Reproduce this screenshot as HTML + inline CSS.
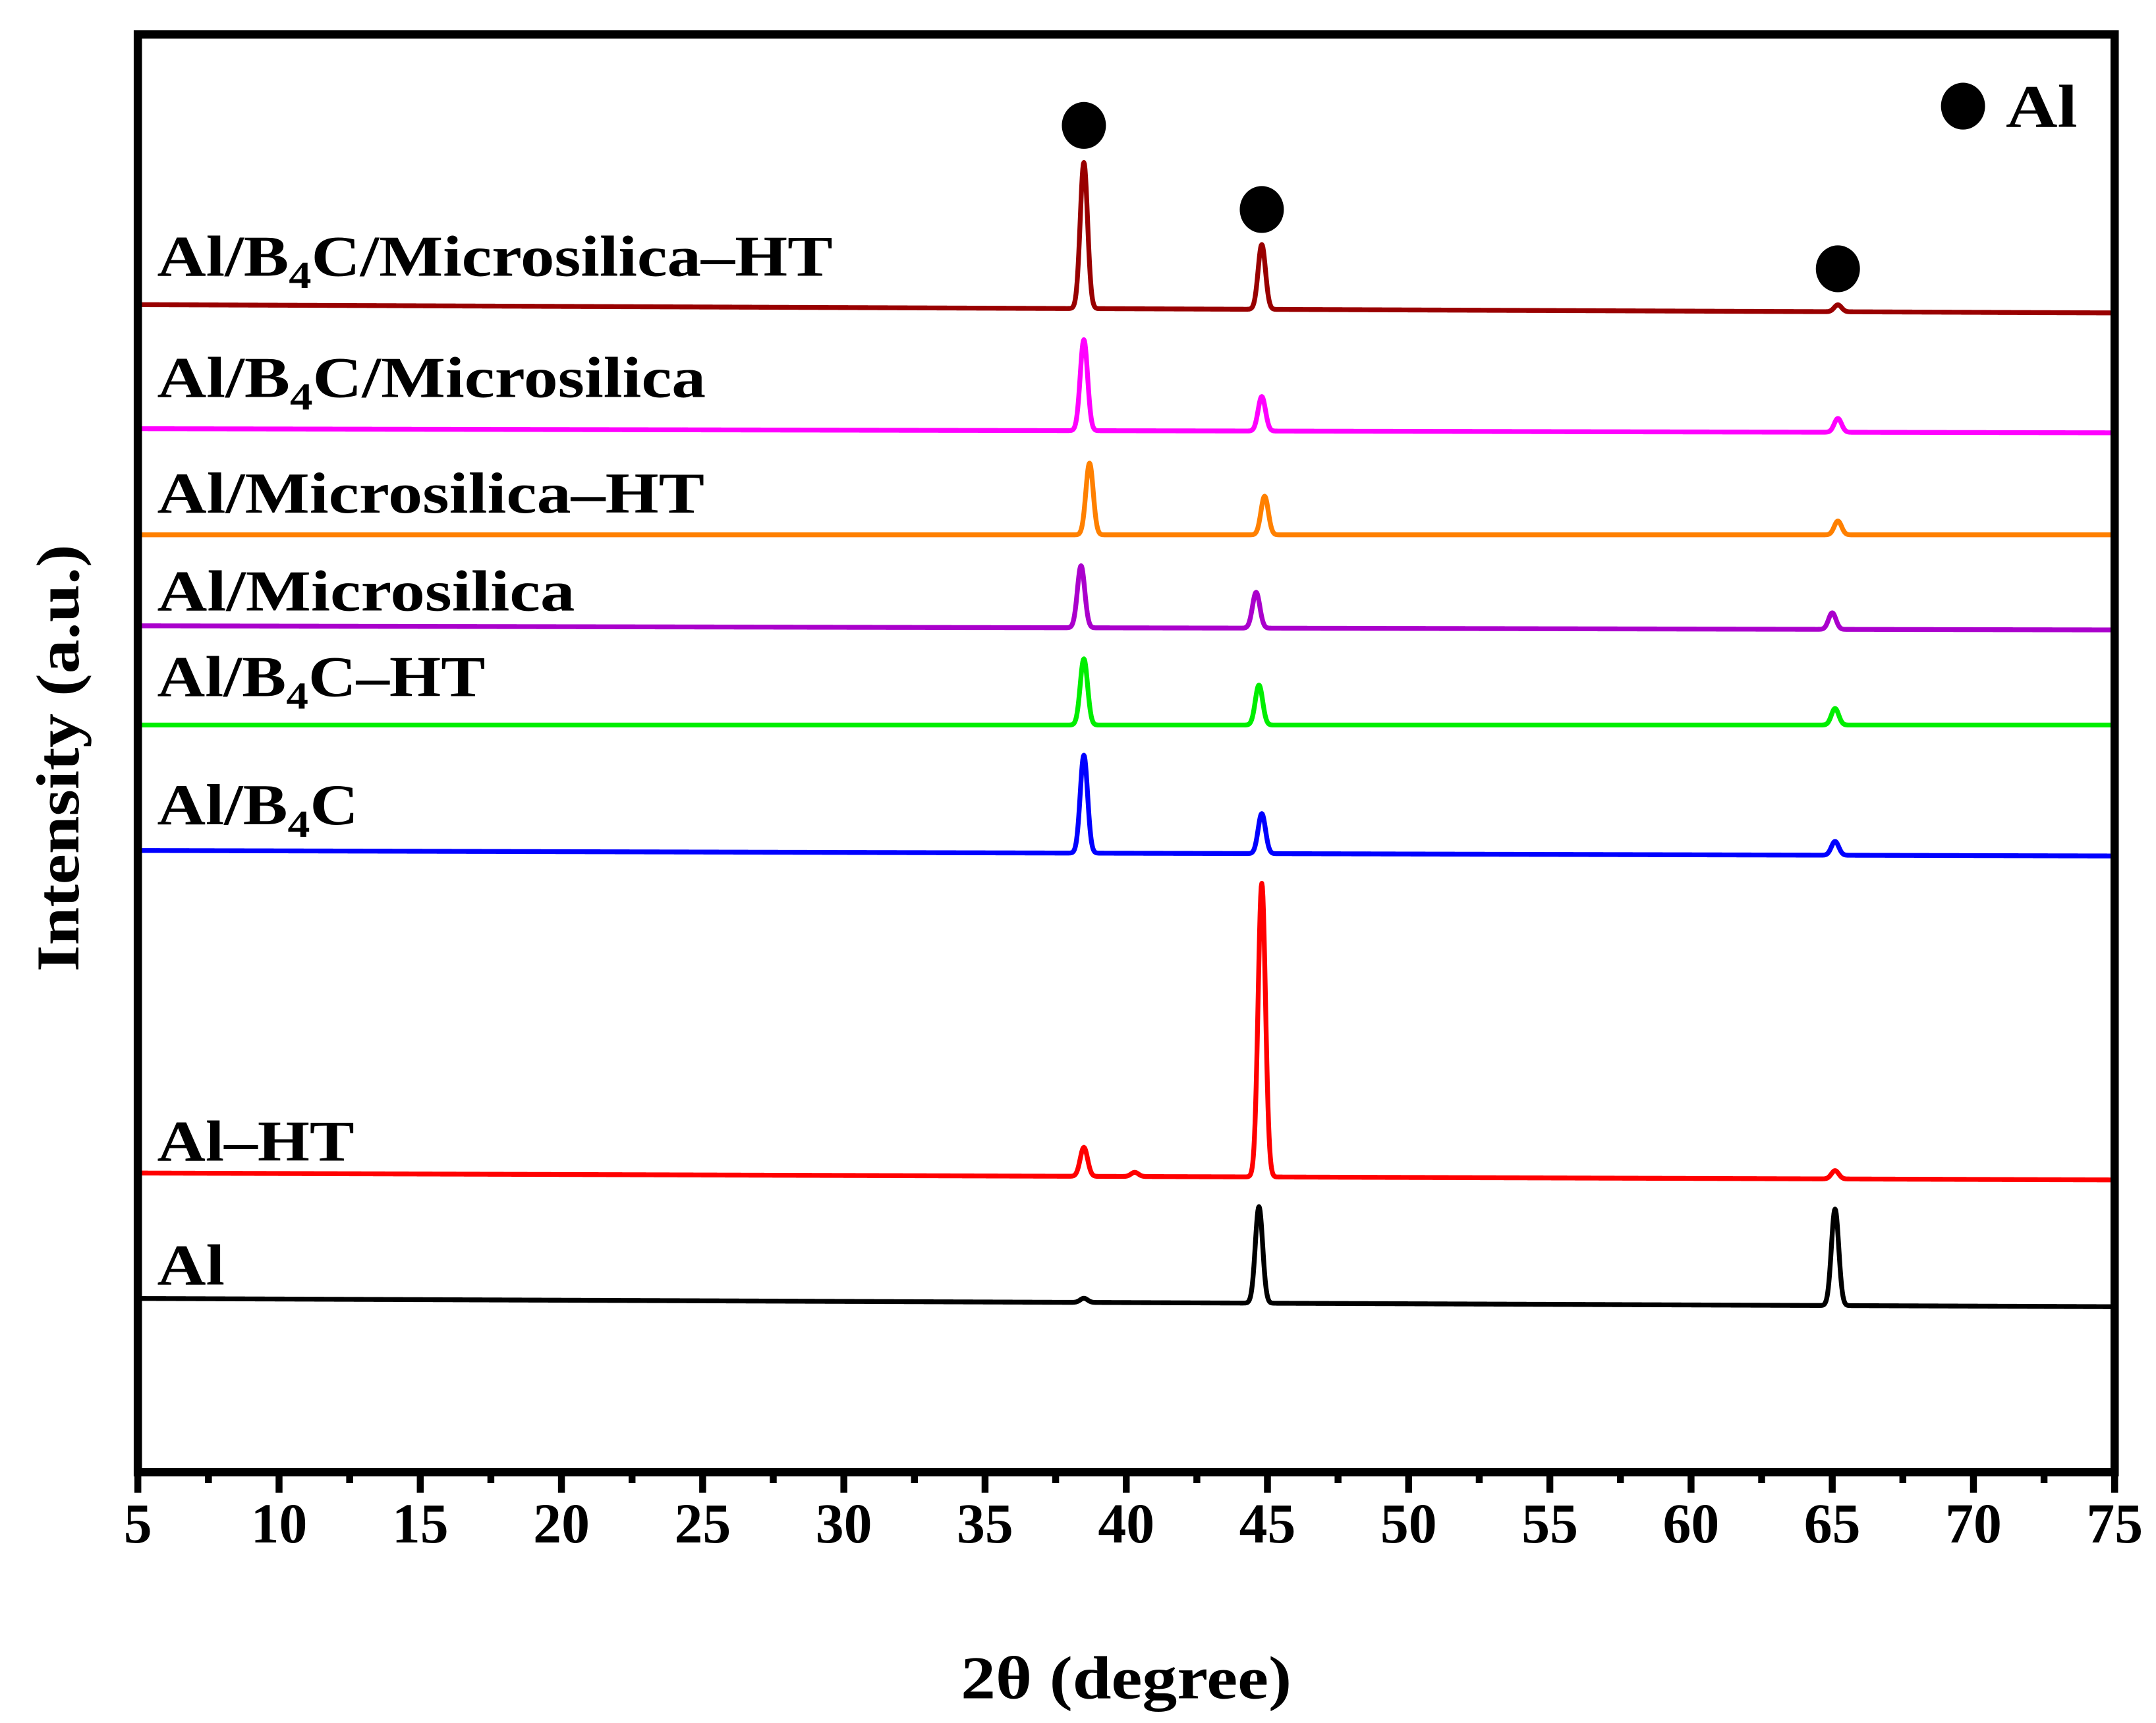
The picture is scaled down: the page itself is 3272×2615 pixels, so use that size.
<!DOCTYPE html>
<html><head><meta charset="utf-8">
<style>
html,body{margin:0;padding:0;background:#fff;}
svg{display:block;}
text{font-family:"Liberation Serif",serif;font-weight:bold;fill:#000;}
</style></head>
<body>
<svg id="chart" width="3272" height="2615" viewBox="0 0 1564 1250" preserveAspectRatio="none" xmlns="http://www.w3.org/2000/svg">
<g id="series"></g>
<g id="axes"></g>
<g id="labels"></g>
</svg>
<script>
const seriesNames = ["Al","Al–HT","Al/B4C","Al/B4C–HT","Al/Microsilica","Al/Microsilica–HT","Al/B4C/Microsilica","Al/B4C/Microsilica–HT"];
const seriesColors = ["#000000","#ff0000","#0000ff","#00ee00","#aa00cc","#ff8000","#ff00ff","#990000"];
const baseStart = [126,217,451,542,614,680,757,847];
const baseEnd = [120,212,447,542,611,680,754,841];
const peakPos = [
 [38.5,44.7,65.1],
 [38.5,40.3,44.8,65.1],
 [38.5,44.8,65.1],
 [38.5,44.7,65.1],
 [38.4,44.6,65.0],
 [38.7,44.9,65.2],
 [38.5,44.8,65.2],
 [38.5,44.8,65.2]
];
const peakHeights = [
 [3,70,70],
 [21,3,213,6],
 [71,29,10],
 [48,29,12],
 [45,26,12],
 [52,28,10],
 [66,25,10],
 [106,47,5]
];
const labelBaselines = [932,842,598,505,443,372,288,200];
const labelWidths = [49,143,146,238,303,397,398,490];
const xTicks = [5,10,15,20,25,30,35,40,45,50,55,60,65,70,75];
const markerX = [38.5,44.8,65.2];
const markerY = [91,152,195];

const L=100,R=1534,T=25,B=1068,XMIN=5,XMAX=75;
const xs = v => L+(v-XMIN)/(XMAX-XMIN)*(R-L);
const ys = v => B-v;
const NS="http://www.w3.org/2000/svg";
const sg=document.getElementById('series'), ag=document.getElementById('axes'), lg=document.getElementById('labels');
function mk(tag,attrs,parent){const e=document.createElementNS(NS,tag);for(const k in attrs)e.setAttribute(k,attrs[k]);parent.appendChild(e);return e;}

seriesNames.forEach((name,i)=>{
  let d="";
  for(let x=XMIN;x<=XMAX+1e-9;x+=0.02){
    let v=baseStart[i]+(baseEnd[i]-baseStart[i])*(x-XMIN)/(XMAX-XMIN);
    peakPos[i].forEach((p,j)=>{const s=0.13;v+=peakHeights[i][j]*Math.exp(-0.5*((x-p)/s)**2);});
    d+=(d?"L":"M")+xs(x).toFixed(2)+","+ys(v).toFixed(2);
  }
  const path=mk('path',{d:d,fill:'none',stroke:seriesColors[i],'stroke-width':3.5,'stroke-linejoin':'round'},sg);
  
  
  const t=mk('text',{x:114,y:labelBaselines[i],'font-size':42,textLength:labelWidths[i],lengthAdjust:'spacingAndGlyphs'},lg);
  
  
  const parts=name.split('B4C');
  parts.forEach((p,k)=>{
    if(k>0){
      const a=document.createElementNS(NS,'tspan');a.textContent='B';t.appendChild(a);
      const b=document.createElementNS(NS,'tspan');b.setAttribute('font-size','28');b.setAttribute('dy','9');b.textContent='4';t.appendChild(b);
      const c=document.createElementNS(NS,'tspan');c.setAttribute('dy','-9');c.textContent='C';t.appendChild(c);
    }
    if(p){const s=document.createElementNS(NS,'tspan');s.textContent=p;t.appendChild(s);}
  });
});

markerX.forEach((mx,i)=>{
  const c=mk('ellipse',{cx:xs(mx),cy:markerY[i],rx:16,ry:17,fill:'#000'},lg);
  
  
});
const lm=mk('ellipse',{cx:1424,cy:77,rx:16,ry:17,fill:'#000'},lg);


const lt=mk('text',{x:1455,y:92,'font-size':44,textLength:52,lengthAdjust:'spacingAndGlyphs'},lg);
lt.textContent='Al';



const fr=mk('rect',{x:L,y:T,width:R-L,height:B-T,fill:'none',stroke:'#000','stroke-width':6},ag);


for(let v=XMIN;v<=XMAX;v+=2.5){
  const major=(v%5===0);
  const tk=mk('line',{x1:xs(v),x2:xs(v),y1:B,y2:B+(major?15:8),stroke:'#000','stroke-width':5},ag);
  
  
}
xTicks.forEach(v=>{
  const t=mk('text',{x:xs(v),y:1119,'font-size':41,'text-anchor':'middle'},ag);
  t.textContent=v;
  
  
});
const xt=mk('text',{x:817,y:1232,'font-size':44,'text-anchor':'middle',textLength:240,lengthAdjust:'spacingAndGlyphs'},ag);
xt.textContent='2θ (degree)';


const yt=mk('text',{x:0,y:0,'font-size':44,'text-anchor':'middle',textLength:310,lengthAdjust:'spacingAndGlyphs',transform:'translate(57,550) rotate(-90)'},ag);
yt.textContent='Intensity (a.u.)';


</script>
</body></html>
